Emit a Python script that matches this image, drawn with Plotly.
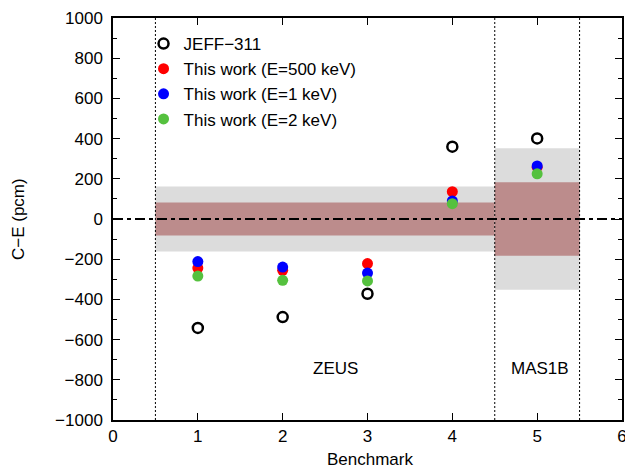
import plotly.graph_objects as go

# benchmark index and C-E values (pcm)
bench = [1, 2, 3, 4, 5]
jeff311 = [-542, -488, -372, 360, 401]
e500kev = [-244, -255, -222, 136, 258]
e1kev = [-212, -239, -269, 90, 264]
e2kev = [-284, -305, -308, 76, 225]

# experimental uncertainty bands per benchmark group
band_x0 = [0.5, 4.5]
band_x1 = [4.5, 5.5]
band_outer = [162, 352]
band_inner = [82, 183]
group_names = ["ZEUS", "MAS1B"]
group_x = [2.62, 5.03]
group_y = [-745, -745]
sep_x = [0.5, 4.5, 5.5]

FONT = "Liberation Sans, Arial, sans-serif"

fig = go.Figure()

# bands
for x0, x1, o, i in zip(band_x0, band_x1, band_outer, band_inner):
    fig.add_shape(type="rect", x0=x0, x1=x1, y0=-o, y1=o, xref="x", yref="y",
                  fillcolor="#dcdcdc", line_width=0, layer="below")
    fig.add_shape(type="rect", x0=x0, x1=x1, y0=-i, y1=i, xref="x", yref="y",
                  fillcolor="#bc8c8c", line_width=0, layer="below")

# zero line + group separators
fig.add_shape(type="line", x0=0, x1=6, y0=0, y1=0, xref="x", yref="y",
              line=dict(color="black", width=2.2, dash="10px,4px,4px,4px"))
for sx in sep_x:
    fig.add_shape(type="line", x0=sx, x1=sx, y0=0, y1=1, xref="x", yref="paper",
                  line=dict(color="black", width=1, dash="2px,2px"))

fig.add_trace(go.Scatter(x=bench, y=jeff311, mode="markers", name="JEFF\u2212311",
                         marker=dict(symbol="circle-open", size=10, color="black",
                                     line=dict(width=2.5, color="black"))))
for vals, col, nm in [(e500kev, "#ff0000", "This work (E=500 keV)"),
                      (e1kev, "#0000ff", "This work (E=1 keV)"),
                      (e2kev, "#55c13e", "This work (E=2 keV)")]:
    fig.add_trace(go.Scatter(x=bench, y=vals, mode="markers", name=nm,
                             marker=dict(size=11, color=col)))

for nm, gx, gy in zip(group_names, group_x, group_y):
    fig.add_annotation(x=gx, y=gy, text=nm, showarrow=False, xref="x", yref="y",
                       font=dict(size=17, color="black", family=FONT))

# axis titles as annotations (margins are fixed)
fig.add_annotation(x=0.505, y=-0.0995, xref="paper", yref="paper", text="Benchmark",
                   showarrow=False, yanchor="middle", font=dict(size=17, family=FONT))
fig.add_annotation(x=-0.1866, y=0.5, xref="paper", yref="paper", text="C\u2212E (pcm)",
                   textangle=-90, showarrow=False, xanchor="center",
                   font=dict(size=17, family=FONT))

axis_common = dict(showgrid=False, zeroline=False, showline=True, linecolor="black",
                   linewidth=1.5, mirror="ticks", ticks="inside", tickcolor="black",
                   ticklen=7, tickwidth=1, automargin=False, ticklabeloverflow="allow",
                   tickfont=dict(size=17, color="black", family=FONT))
fig.update_xaxes(range=[0, 6], dtick=1, tick0=0, **axis_common)
fig.update_yaxes(range=[-1000, 1000], dtick=200, tick0=0, ticklabelstandoff=5,
                 minor=dict(dtick=100, ticks="inside", ticklen=4, tickcolor="black"),
                 **axis_common)

fig.update_layout(width=625, height=472, plot_bgcolor="white", paper_bgcolor="white",
                  margin=dict(l=113, r=3, t=18, b=52),
                  font=dict(family=FONT, size=17, color="black"),
                  legend=dict(x=0.06, y=0.98, xanchor="left", yanchor="top",
                              bgcolor="rgba(0,0,0,0)", font=dict(size=17, family=FONT),
                              tracegroupgap=0, itemwidth=30))

# drop the default page margin so the figure sits at the window origin
fig.write_html("out.html", config={"displayModeBar": False},
               post_script="document.body.style.margin='0';")
